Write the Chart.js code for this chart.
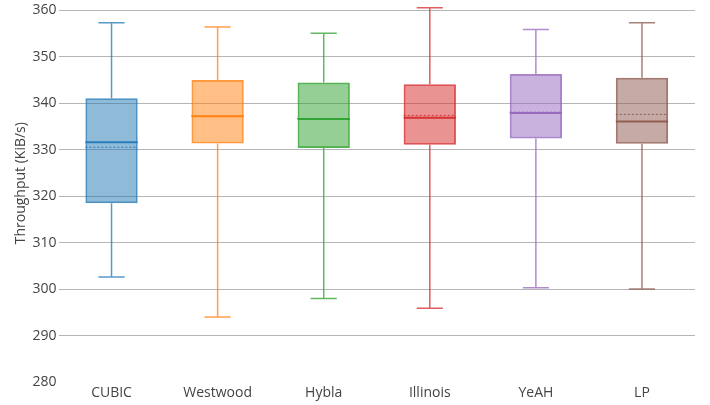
<!DOCTYPE html>
<html>
<head>
<meta charset="utf-8">
<script src="https://cdn.jsdelivr.net/npm/chart.js@4"></script>
<style>
    html, body { margin: 0; padding: 0; background: #fff; }
    #wrap { width: 710px; height: 405px; }
</style>
</head>
<body>
<div id="wrap"><canvas id="boxChart"></canvas></div>
<script>
const categories = ['CUBIC', 'Westwood', 'Hybla', 'Illinois', 'YeAH', 'LP'];
const minValues = [302.6, 294.0, 298.0, 295.9, 300.3, 300.0];
const q1Values = [318.5, 331.35, 330.4, 331.1, 332.4, 331.3];
const medianValues = [331.6, 337.2, 336.6, 336.9, 337.9, 336.1];
const meanValues = [330.55, 337.35, 336.7, 337.4, 338.1, 337.6];
const q3Values = [341.1, 345.0, 344.5, 344.1, 346.3, 345.5];
const maxValues = [357.35, 356.4, 355.06, 360.57, 355.9, 357.35];
const yTicks = [280, 290, 300, 310, 320, 330, 340, 350, 360];

const colors = ['31,119,180', '255,127,14', '44,160,44', '214,39,40', '148,103,189', '140,86,75'];
const fontFamily = '"Open Sans", sans-serif';

// whiskers, caps, median and mean lines drawn on top of the floating bars
const boxLines = {
    id: 'boxLines',
    afterDatasetsDraw(chart) {
        const ctx = chart.ctx;
        const x = chart.scales.x;
        const y = chart.scales.y;
        const meta = chart.getDatasetMeta(0);
        ctx.save();
        categories.forEach((c, i) => {
            const cx = x.getPixelForValue(i);
            const half = meta.data[i].width / 2;
            const col = colors[i];
            const yMin = y.getPixelForValue(minValues[i]);
            const yQ1 = y.getPixelForValue(q1Values[i]);
            const yQ3 = y.getPixelForValue(q3Values[i]);
            const yMax = y.getPixelForValue(maxValues[i]);

            ctx.strokeStyle = `rgba(${col},0.75)`;
            ctx.lineWidth = 1.5;
            ctx.setLineDash([]);
            ctx.beginPath();
            ctx.moveTo(cx, yQ3); ctx.lineTo(cx, yMax);
            ctx.moveTo(cx, yQ1); ctx.lineTo(cx, yMin);
            ctx.moveTo(cx - half / 2, yMax); ctx.lineTo(cx + half / 2, yMax);
            ctx.moveTo(cx - half / 2, yMin); ctx.lineTo(cx + half / 2, yMin);
            ctx.stroke();

            // median
            const yMed = y.getPixelForValue(medianValues[i]);
            ctx.strokeStyle = `rgba(${col},0.9)`;
            ctx.lineWidth = 2;
            ctx.beginPath();
            ctx.moveTo(cx - half, yMed); ctx.lineTo(cx + half, yMed);
            ctx.stroke();

            // mean (dotted)
            const yMean = y.getPixelForValue(meanValues[i]);
            ctx.lineWidth = 1;
            ctx.setLineDash([2, 2]);
            ctx.beginPath();
            ctx.moveTo(cx - half, yMean); ctx.lineTo(cx + half, yMean);
            ctx.stroke();
        });
        ctx.restore();
    }
};

// axis title, placed a little above the plot centre like the original
const yTitle = {
    id: 'yTitle',
    afterDraw(chart) {
        const ctx = chart.ctx;
        const area = chart.chartArea;
        ctx.save();
        ctx.translate(21, (area.top + area.bottom) / 2 - 13);
        ctx.rotate(-Math.PI / 2);
        ctx.font = '14px ' + fontFamily;
        ctx.fillStyle = '#444';
        ctx.textAlign = 'center';
        ctx.textBaseline = 'middle';
        ctx.fillText('Throughput (KiB/s)', 0, 0);
        ctx.restore();
    }
};

new Chart(document.getElementById('boxChart').getContext('2d'), {
    type: 'bar',
    data: {
        labels: categories,
        datasets: [{
            label: 'Throughput',
            data: categories.map((c, i) => [q1Values[i], q3Values[i]]),
            backgroundColor: colors.map(c => `rgba(${c},0.5)`),
            borderColor: colors.map(c => `rgba(${c},0.8)`),
            borderWidth: 2,
            borderSkipped: false,
            categoryPercentage: 1,
            barPercentage: 0.493
        }]
    },
    options: {
        responsive: true,
        maintainAspectRatio: false,
        animation: false,
        layout: { padding: { top: 9, right: 15, left: 0, bottom: 0 } },
        plugins: {
            legend: { display: false },
            tooltip: { enabled: false }
        },
        scales: {
            x: {
                grid: { display: false },
                border: { display: false },
                ticks: {
                    color: '#444',
                    padding: -5,
                    font: { family: fontFamily, size: 14 }
                },
                afterFit(scale) { scale.height = 23; }
            },
            y: {
                min: 280,
                max: 360,
                afterBuildTicks(scale) { scale.ticks = yTicks.map(v => ({ value: v })); },
                grid: {
                    drawTicks: false,
                    color: ctx => ctx.tick && ctx.tick.value === 280 ? 'rgba(0,0,0,0)' : '#b5b5b5',
                    lineWidth: 1
                },
                border: { display: false },
                ticks: {
                    color: '#444',
                    padding: 2,
                    font: { family: fontFamily, size: 14 }
                },
                afterFit(scale) { scale.width = 58.5; }
            }
        }
    },
    plugins: [boxLines, yTitle]
});
</script>
</body>
</html>
